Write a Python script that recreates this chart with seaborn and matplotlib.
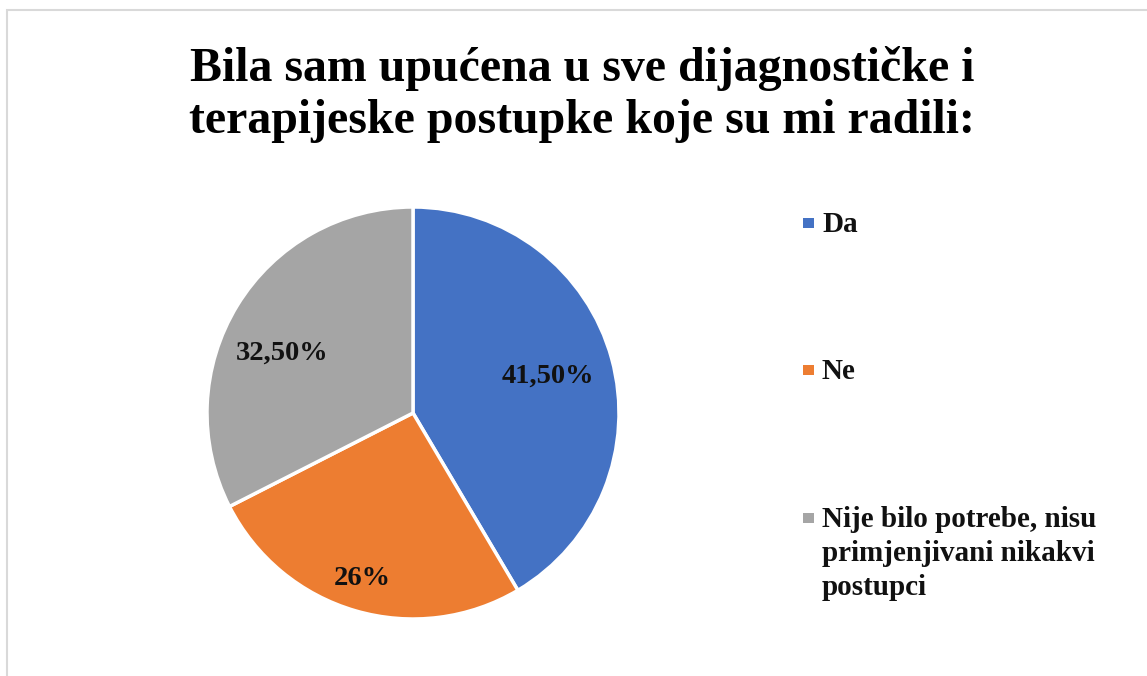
import matplotlib
matplotlib.use("Agg")
import matplotlib.pyplot as plt
import seaborn as sns
import numpy as np
from matplotlib.patches import Rectangle

categories = ["Da", "Ne", "Nije bilo potrebe, nisu\nprimjenjivani nikakvi\npostupci"]
values = [41.5, 26.0, 32.5]
value_labels = ["41,50%", "26%", "32,50%"]
colors = ["#4472C4", "#ED7D31", "#A5A5A5"]
title = "Bila sam upućena u sve dijagnostičke i\nterapijeske postupke koje su mi radili:"

sns.set_theme(style="white")
plt.rcParams['font.family'] = ['Liberation Serif', 'DejaVu Serif']

W, H = 1147, 676
fig = plt.figure(figsize=(W / 100, H / 100), dpi=100)
fig.patch.set_facecolor("white")

def fx(px):
    return px / W

def fy(py):
    return 1 - py / H

# border
fig.patches.append(Rectangle((fx(7), fy(H + 5)), fx(W + 10), (H - 10 + 5) / H,
                             transform=fig.transFigure, fill=False,
                             edgecolor="#D9D9D9", linewidth=1.5))

# pie
cx, cy, r = 413, 413, 206
ax = fig.add_axes([fx(cx - r), fy(cy + r), 2 * r / W, 2 * r / H])
wedges, _ = ax.pie(values, colors=colors, startangle=90, counterclock=False,
                   radius=1, wedgeprops=dict(edgecolor="white", linewidth=2.5))
ax.set_xlim(-1, 1)
ax.set_ylim(-1, 1)
ax.set_aspect("equal")
ax.axis("off")

label_r = [0.68, 0.84, 0.70]
label_dang = [0, -1, 7]
for w, lab, lr, da in zip(wedges, value_labels, label_r, label_dang):
    ang = np.deg2rad((w.theta1 + w.theta2) / 2 + da)
    ax.text(lr * np.cos(ang), lr * np.sin(ang), lab, ha="center", va="center",
            fontsize=20.5, fontweight="bold", color="#111111")

# title
fig.text(fx(582), fy(46), title, ha="center", va="top", fontsize=34.5,
         fontweight="bold", color="black", linespacing=1.23)

# legend (manual)
leg_y = [223, 370, 518]
for c, lab, y in zip(colors, categories, leg_y):
    fig.patches.append(Rectangle((fx(803), fy(y + 5)), 11 / W, 10 / H,
                                 transform=fig.transFigure, facecolor=c,
                                 edgecolor="none"))
    fig.text(fx(822), fy(y - 12), lab, ha="left", va="top", fontsize=21,
             fontweight="bold", color="#111111", linespacing=1.34,
             transform=fig.transFigure)

fig.savefig("out.png", dpi=100, facecolor="white")
